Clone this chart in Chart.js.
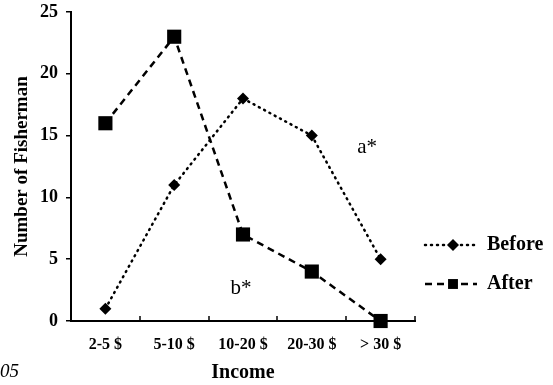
<!DOCTYPE html>
<html>
<head>
<meta charset="utf-8">
<script src="https://cdn.jsdelivr.net/npm/chart.js@4"></script>
<style>
    html, body { margin: 0; padding: 0; background: #fff; }
    #wrap { position: relative; width: 553px; height: 385px; }
</style>
</head>
<body>
<div id="wrap"><canvas id="chart" width="553" height="385"></canvas></div>
<script>
// Chart data
const incomeLabels = ['2-5 $', '5-10 $', '10-20 $', '20-30 $', '> 30 $'];
const beforeValues = [1, 11, 18, 15, 5];
const afterValues = [16, 23, 7, 4, 0];
const yTicks = [0, 5, 10, 15, 20, 25];

// Significance notes placed on the chart (category index, value)
const notes = [
    { text: 'a*', x: 3.66, y: 14 },
    { text: 'b*', x: 1.82, y: 2.65 }
];

const FONT = '"Liberation Serif", "Times New Roman", serif';

// Inside tick marks on x axis, legend, notes
const extrasPlugin = {
    id: 'extras',
    afterDraw(chart) {
        const ctx = chart.ctx;
        const xs = chart.scales.x;
        const ys = chart.scales.y;
        const area = chart.chartArea;

        ctx.save();
        // x tick marks pointing up into the plot
        ctx.strokeStyle = '#000';
        ctx.lineWidth = 1.5;
        for (let i = 0; i <= incomeLabels.length; i++) {
            const px = Math.round(xs.getPixelForValue(i - 0.5));
            ctx.beginPath();
            ctx.moveTo(px, area.bottom);
            ctx.lineTo(px, area.bottom - 5);
            ctx.stroke();
        }

        // notes
        ctx.fillStyle = '#000';
        ctx.font = '21px ' + FONT;
        ctx.textAlign = 'left';
        ctx.textBaseline = 'middle';
        notes.forEach(n => {
            ctx.fillText(n.text, xs.getPixelForValue(n.x), ys.getPixelForValue(n.y));
        });

        // cut-off text at the bottom left
        ctx.font = 'italic 19px ' + FONT;
        ctx.fillText('05', 0, 372);

        // legend
        const lx = 425, lw = 52;
        const legendRadius = [6, 7];
        chart.data.datasets.forEach((ds, i) => {
            const ly = 245 + i * 39;
            ctx.strokeStyle = ds.borderColor;
            ctx.lineWidth = ds.borderWidth;
            ctx.lineCap = ds.borderCapStyle;
            ctx.setLineDash(ds.borderDash);
            ctx.beginPath();
            ctx.moveTo(lx, ly);
            ctx.lineTo(lx + lw, ly);
            ctx.stroke();
            ctx.setLineDash([]);
            Chart.helpers.drawPoint(ctx, {
                pointStyle: ds.pointStyle,
                radius: legendRadius[i],
                borderWidth: 0
            }, 453, ly);
            ctx.fillStyle = '#000';
            ctx.font = 'bold 20px ' + FONT;
            ctx.fillText(ds.label, 487, ly);
        });
        ctx.restore();
    }
};

const ctx = document.getElementById('chart').getContext('2d');
new Chart(ctx, {
    type: 'line',
    data: {
        labels: incomeLabels,
        datasets: [
            {
                label: 'Before',
                data: beforeValues,
                borderColor: '#000',
                backgroundColor: '#000',
                borderWidth: 2.5,
                borderDash: [1, 5],
                borderCapStyle: 'round',
                pointStyle: 'rectRot',
                pointRadius: 6,
                pointBorderWidth: 0,
                fill: false,
                tension: 0
            },
            {
                label: 'After',
                data: afterValues,
                borderColor: '#000',
                backgroundColor: '#000',
                borderWidth: 2.5,
                borderDash: [7, 5],
                borderCapStyle: 'butt',
                pointStyle: 'rect',
                pointRadius: 10,
                pointBorderWidth: 0,
                fill: false,
                tension: 0
            }
        ]
    },
    options: {
        responsive: false,
        animation: false,
        clip: false,
        layout: {
            padding: { top: 12, right: 138, left: 0, bottom: 0 }
        },
        plugins: {
            legend: { display: false },
            tooltip: { enabled: false }
        },
        scales: {
            x: {
                offset: true,
                afterFit(scale) { scale.height = 64; },
                grid: {
                    display: true,
                    drawOnChartArea: false,
                    drawTicks: false,
                    offset: true
                },
                border: { color: '#000', width: 2 },
                ticks: {
                    color: '#000',
                    padding: 14,
                    maxRotation: 0,
                    font: { family: FONT, size: 16, weight: 'bold' }
                },
                title: {
                    display: true,
                    text: 'Income',
                    color: '#000',
                    padding: { top: 0, bottom: 2 },
                    font: { family: FONT, size: 20, weight: 'bold', lineHeight: 1 }
                }
            },
            y: {
                min: 0,
                max: 25,
                afterFit(scale) {
                    scale.width = 71;
                    scale.paddingTop = 0;
                    scale.paddingBottom = 0;
                },
                afterBuildTicks(scale) { scale.ticks = yTicks.map(v => ({ value: v })); },
                grid: {
                    drawOnChartArea: false,
                    drawTicks: true,
                    tickLength: 5,
                    color: '#000',
                    lineWidth: 1.5
                },
                border: { color: '#000', width: 2 },
                ticks: {
                    color: '#000',
                    padding: 8,
                    font: { family: FONT, size: 18, weight: 'bold' }
                },
                title: {
                    display: true,
                    text: 'Number of Fisherman',
                    color: '#000',
                    padding: { top: 11, bottom: 0 },
                    font: { family: FONT, size: 19, weight: 'bold' }
                }
            }
        }
    },
    plugins: [extrasPlugin]
});
</script>
</body>
</html>
